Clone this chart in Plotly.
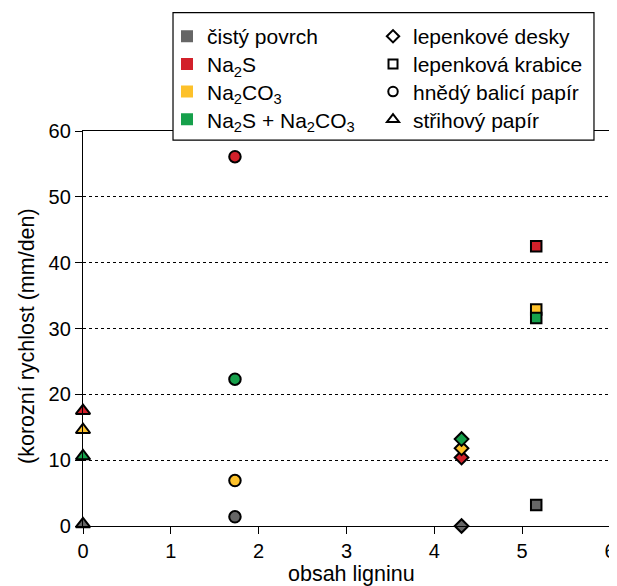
import plotly.graph_objects as go

# ---- data ----
groups = ["čistý povrch", "Na<sub>2</sub>S", "Na<sub>2</sub>CO<sub>3</sub>", "Na<sub>2</sub>S + Na<sub>2</sub>CO<sub>3</sub>"]
group_colors = ["#666666", "#d2202a", "#fdc12a", "#16a04b"]

materials = ["lepenkové desky", "lepenková krabice", "hnědý balicí papír", "střihový papír"]
material_symbols = ["diamond", "square", "circle", "triangle-up"]
lignin = [4.31, 5.16, 1.73, 0.0]

# corrosion rate per material, in the order of `groups`
rates = {
    "lepenkové desky":    [0.0, 10.4, 11.8, 13.2],
    "lepenková krabice":  [3.2, 42.5, 32.9, 31.6],
    "hnědý balicí papír": [1.4, 56.1, 6.9, 22.3],
    "střihový papír":     [0.3, 17.5, 14.6, 10.6],
}

y_ticks = [0, 10, 20, 30, 40, 50, 60]
x_ticks = [0, 1, 2, 3, 4, 5, 6]
x_title = "obsah ligninu"
y_title = "(korozní rychlost (mm/den)"

FONT = "Liberation Sans, Arial, sans-serif"
marker_size = {"diamond": 10.5, "square": 10.5, "circle": 11.5, "triangle-up": 12.5}
legend_size = {"diamond": 9.5, "square": 9, "circle": 9.5, "triangle-up": 10.5}

fig = go.Figure()

# data points
for m, sym, x in zip(materials, material_symbols, lignin):
    for col, v in zip(group_colors, rates[m]):
        fig.add_trace(go.Scatter(
            x=[x], y=[v], mode="markers", showlegend=False, cliponaxis=False,
            marker=dict(symbol=sym, size=marker_size[sym], color=col,
                        line=dict(color="black", width=2)),
        ))

# legend rows (one legend per row for exact spacing)
row_y = [1.2995 - 0.0605 - i * 0.0701 for i in range(4)]
legend_layout = {}
for i, (g, col) in enumerate(zip(groups, group_colors)):
    key = "legend" if i == 0 else f"legend{i + 1}"
    fig.add_trace(go.Scatter(
        x=[None], y=[None], mode="markers", name=g, legend=key,
        marker=dict(symbol="square", size=12, color=col, line=dict(width=0)),
    ))
    legend_layout[key] = dict(x=0.1594, y=row_y[i], xanchor="left", yanchor="middle",
                              bgcolor="rgba(0,0,0,0)", font=dict(size=21), itemwidth=30)
for i, (m, sym) in enumerate(zip(materials, material_symbols)):
    key = f"legend{i + 5}"
    fig.add_trace(go.Scatter(
        x=[None], y=[None], mode="markers", name=m, legend=key,
        marker=dict(symbol=sym + "-open", size=legend_size[sym], color="black",
                    line=dict(color="black", width=2)),
    ))
    legend_layout[key] = dict(x=0.5503, y=row_y[i], xanchor="left", yanchor="middle",
                              bgcolor="rgba(0,0,0,0)", font=dict(size=21), itemwidth=30)

fig.add_shape(type="rect", xref="paper", yref="paper", x0=0.1708, x1=0.9696, y0=0.977, y1=1.2995,
              fillcolor="white", line=dict(color="black", width=1.2), layer="above")

fig.add_annotation(text=x_title, xref="paper", yref="paper", x=0.5104, y=-0.1215,
                   xanchor="center", yanchor="middle", showarrow=False, font=dict(size=21.5))
fig.add_annotation(text=y_title, xref="paper", yref="paper", x=-0.1063, y=0.481,
                   xanchor="center", yanchor="middle", showarrow=False, textangle=-90,
                   font=dict(size=21.5))

fig.update_layout(
    width=609, height=578,
    margin=dict(l=75, r=7, t=123, b=60),
    paper_bgcolor="white", plot_bgcolor="white",
    font=dict(family=FONT, size=20, color="black"),
    xaxis=dict(range=[0, 6], tickvals=x_ticks, showgrid=False, zeroline=False,
               showline=True, linecolor="black", linewidth=1.3, mirror=True,
               ticks="outside", ticklen=7, tickcolor="black", tickwidth=1.2,
               tickfont=dict(size=20), automargin=False),
    yaxis=dict(range=[0, 60], tickvals=y_ticks, showgrid=True, gridcolor="black",
               griddash="dot", gridwidth=1, zeroline=False,
               showline=True, linecolor="black", linewidth=1.3, mirror=True,
               ticks="outside", ticklen=7, tickcolor="black", tickwidth=1.2,
               tickfont=dict(size=20), automargin=False),
    **legend_layout,
)

fig.write_html("out.html")
